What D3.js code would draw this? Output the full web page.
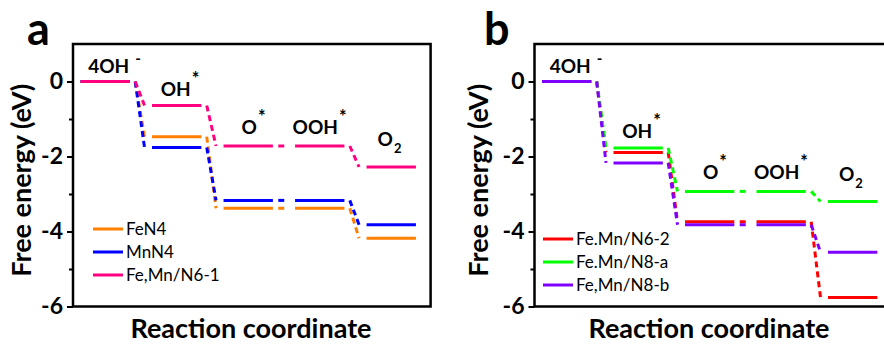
<!DOCTYPE html>
<html><head><meta charset="utf-8">
<script src="https://cdn.jsdelivr.net/npm/d3@7"></script>
<style>body{margin:0;background:#fff}svg{display:block}text{font-family:Lato,"Open Sans",sans-serif}</style>
</head><body>
<script>
// ---- data ----
const steps = ["4OH", "OH", "O", "OOH", "O"];
const stepSup = ["-", "*", "*", "*", ""];
const stepSub = ["", "", "", "", "2"];
const yTicks = [0, -2, -4, -6];
const yMinor = [-1, -3, -5];

const namesA = ["FeN4", "MnN4", "Fe,Mn/N6-1"];
const feN4 = [0, -1.47, -3.38, -3.38, -4.18];
const mnN4 = [0, -1.76, -3.17, -3.17, -3.82];
const feMnN6_1 = [0, -0.64, -1.72, -1.72, -2.28];

const namesB = ["Fe.Mn/N6-2", "Fe.Mn/N8-a", "Fe,Mn/N8-b"];
const feMnN6_2 = [0, -1.89, -3.74, -3.74, -5.76];
const feMnN8a = [0, -1.77, -2.93, -2.93, -3.20];
const feMnN8b = [0, -2.17, -3.82, -3.82, -4.55];

const colorsA = ["#ff7f00", "#0000ff", "#ff0080"];
const colorsB = ["#ff0000", "#00ff00", "#8000ff"];

// ---- layout ----
const W = 884, H = 347;
const svg = d3.select("body").append("svg").attr("width", W).attr("height", H);

const panels = [
  {letter: "a", left: 73, right: 430.6, names: namesA, series: [feN4, mnN4, feMnN6_1], colors: colorsA,
   legX: 93, legY: 229, titleOff: 51, letterX: 27, xTitle: 251},
  {letter: "b", left: 534.5, right: 892, names: namesB, series: [feMnN6_2, feMnN8a, feMnN8b], colors: colorsB,
   legX: 543, legY: 239, titleOff: 56, letterX: 484, xTitle: 709}
];
const plotTop = 44, plotBottom = 306.5;
const labelOff = [9, 10, 12.5, 12.5, 21];
const labelShift = [3.5, -1, 1, -4.5, -6];

panels.forEach(p => {
  const x = d3.scaleLinear().domain([0, 5]).range([p.left, p.right]);
  const y = d3.scaleLinear().domain([-6, 1]).range([plotBottom, plotTop]);
  const g = svg.append("g");

  // levels and connectors
  p.series.forEach((s, si) => {
    const col = p.colors[si];
    s.forEach((v, i) => {
      g.append("line").attr("x1", x(i + 0.105)).attr("x2", x(i + 0.795))
        .attr("y1", y(v)).attr("y2", y(v))
        .attr("stroke", col).attr("stroke-width", 3);
      if (i < s.length - 1) {
        g.append("line").attr("x1", x(i + 0.87)).attr("x2", x(i + 1.0))
          .attr("y1", y(v)).attr("y2", y(s[i + 1]))
          .attr("stroke", col).attr("stroke-width", 3)
          .attr("stroke-dasharray", "6,4");
      }
    });
  });

  // step labels
  steps.forEach((st, i) => {
    const topV = d3.max(p.series, s => s[i]);
    const cx = x(i + 0.45) + labelShift[i];
    const by = y(topV) - labelOff[i];
    const t = g.append("text").attr("x", cx).attr("y", by)
      .attr("text-anchor", "middle").attr("font-size", 19).attr("font-weight", "bold").text(st);
    const w = t.node().getComputedTextLength();
    if (stepSup[i]) {
      g.append("text").attr("x", cx + w / 2 + (stepSup[i] === "-" ? 6 : 1)).attr("y", by - (stepSup[i] === "-" ? 9 : 11))
        .attr("font-size", stepSup[i] === "-" ? 15 : 18).attr("font-weight", "bold").text(stepSup[i]);
    }
    if (stepSub[i]) {
      g.append("text").attr("x", cx + w / 2 + 1).attr("y", by + 7)
        .attr("font-size", 13).attr("font-weight", "bold").text(stepSub[i]);
    }
  });

  // frame
  g.append("rect").attr("x", p.left).attr("y", plotTop)
    .attr("width", p.right - p.left).attr("height", plotBottom - plotTop)
    .attr("fill", "none").attr("stroke", "#000").attr("stroke-width", 2.5);

  // y axis
  const ax = g.append("g").attr("transform", `translate(${p.left},0)`)
    .call(d3.axisLeft(y).tickValues(yTicks).tickFormat(d => String(d)).tickSize(6).tickSizeOuter(0));
  ax.select(".domain").remove();
  ax.selectAll(".tick line").attr("stroke", "#000").attr("stroke-width", 2);
  ax.selectAll(".tick text").attr("font-size", 23).attr("font-weight", "bold")
    .attr("font-family", "Lato, 'Open Sans', sans-serif").attr("fill", "#000").attr("x", -10);
  const mn = g.append("g").attr("transform", `translate(${p.left},0)`)
    .call(d3.axisLeft(y).tickValues(yMinor).tickFormat("").tickSize(4).tickSizeOuter(0));
  mn.select(".domain").remove();
  mn.selectAll(".tick line").attr("stroke", "#000").attr("stroke-width", 2);

  // titles
  g.append("text").attr("transform", `translate(${p.left - p.titleOff},${(plotTop + plotBottom) / 2 + 5}) rotate(-90)`)
    .attr("text-anchor", "middle").attr("dy", "0.35em").attr("font-size", 27).attr("font-weight", "bold")
    .text("Free energy (eV)");
  g.append("text").attr("x", p.xTitle).attr("y", 338).attr("text-anchor", "middle")
    .attr("font-size", 27).attr("font-weight", "bold").text("Reaction coordinate");
  g.append("text").attr("x", p.letterX).attr("y", 45).attr("font-size", 45).attr("font-weight", "bold")
    .text(p.letter);

  // legend
  p.names.forEach((n, i) => {
    const ly = p.legY + i * 23;
    g.append("line").attr("x1", p.legX).attr("x2", p.legX + 30).attr("y1", ly).attr("y2", ly)
      .attr("stroke", p.colors[i]).attr("stroke-width", 3);
    g.append("text").attr("x", p.legX + 33).attr("y", ly).attr("dy", "0.35em")
      .attr("font-size", 17).text(n);
  });
});
</script>
</body></html>
